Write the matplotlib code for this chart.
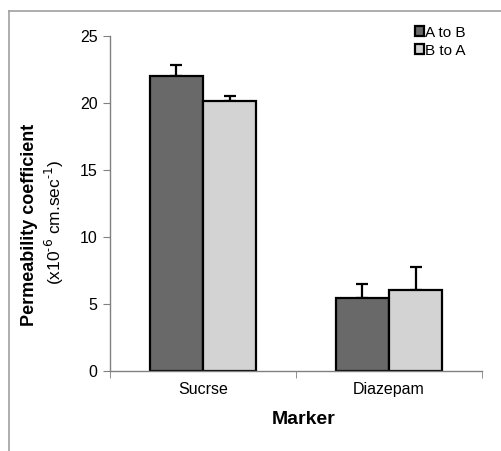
import numpy as np
import matplotlib.pyplot as plt
from matplotlib.lines import Line2D

plt.rcParams["font.family"] = ["Liberation Sans", "DejaVu Sans"]

markers = ["Sucrse", "Diazepam"]
series = ["A to B", "B to A"]
a_to_b = [22.0, 5.42]
b_to_a = [20.15, 6.04]
a_to_b_err = [0.86, 1.07]
b_to_a_err = [0.4, 1.74]
colors = ["#696969", "#d3d3d3"]

W, H = 501, 451
fig = plt.figure(figsize=(W / 100, H / 100), dpi=100)
ax = fig.add_axes([110 / W, 1 - 371 / H, 372 / W, 335 / H])

x = np.arange(len(markers))
width = 0.285
for i, (vals, errs) in enumerate([(a_to_b, a_to_b_err), (b_to_a, b_to_a_err)]):
    pos = x + (i - 0.5) * width
    ax.bar(pos, vals, width, color=colors[i], edgecolor="black", linewidth=1.6,
           label=series[i], zorder=2)
    ax.errorbar(pos, vals, yerr=[np.zeros(len(errs)), errs], fmt="none",
                ecolor="black", elinewidth=1.6, capsize=4, capthick=1.6, zorder=1)

ax.set_xlim(-0.5, 1.5)
ax.set_ylim(0, 25)
ax.set_yticks([0, 5, 10, 15, 20, 25])
ax.set_xticks(x)
ax.set_xticklabels(markers)
ax.set_xticks([-0.5, 0.5, 1.5], minor=True)
ax.tick_params(axis="x", which="major", length=0, pad=8, labelsize=11.5)
ax.tick_params(axis="x", which="minor", length=5, direction="out", color="#808080")
ax.tick_params(axis="y", length=5, direction="out", color="#808080", labelsize=11.5, pad=4)
for s in ["top", "right"]:
    ax.spines[s].set_visible(False)
for s in ["left", "bottom"]:
    ax.spines[s].set_color("#808080")
    ax.spines[s].set_linewidth(1.0)

ax.set_xlabel("Marker", fontsize=14, fontweight="bold")
ax.xaxis.set_label_coords(0.52, -0.118)
fig.text(30 / W, 1 - 225 / H, "Permeability coefficient", rotation=90,
         fontsize=13, fontweight="bold", ha="center", va="center")
fig.text(54 / W, 1 - 222 / H, "(x10$^{\\mathregular{\u2010}6}$ cm.sec$^{\\mathregular{\u2010}1}$)",
         rotation=90, fontsize=12.5, ha="center", va="center")

leg = ax.legend(loc="upper right", bbox_to_anchor=(0.973, 1.049), frameon=False,
                fontsize=11, handlelength=0.6, handleheight=0.6, handletextpad=0.1,
                labelspacing=0.25, borderaxespad=0)

fig.add_artist(Line2D([9 / W, 9 / W], [0, 1 - 11 / H], color="#a0a0a0", lw=1.2))
fig.add_artist(Line2D([9 / W, 1], [1 - 11 / H, 1 - 11 / H], color="#a0a0a0", lw=1.2))

fig.savefig("out.png", dpi=100)
